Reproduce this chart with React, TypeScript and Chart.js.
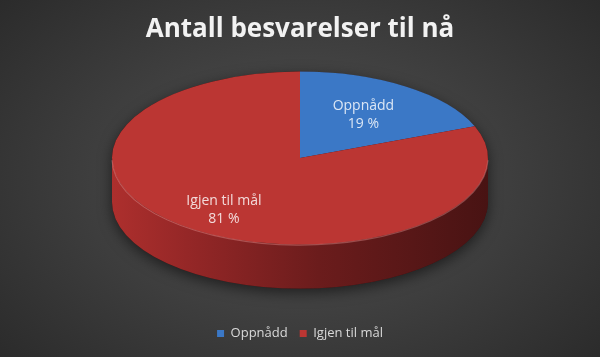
import React, { useEffect, useRef } from "react";
import { Chart, registerables } from "chart.js";

Chart.register(...registerables);

const titleText = "Antall besvarelser til nå";
const categories = ["Oppnådd", "Igjen til mål"];
const values = [19, 81];
const topColors = ["#3b78c6", "#bb3633"];
const sideStops = [
  ["#2f64aa", "#24508a", "#1a3b66", "#122a4a"],
  ["#ad2f2d", "#952727", "#6b1c1c", "#481313"],
];
const labelFractions = [0.6, 0.72];

const FONT = "'Open Sans', 'DejaVu Sans', sans-serif";

const pie3d = {
  id: "pie3d",
  beforeDatasetsDraw(chart: any, _args: any, opts: any) {
    const meta = chart.getDatasetMeta(0);
    const arcs = meta.data as any[];
    if (!arcs.length) return false;
    const ctx: CanvasRenderingContext2D = chart.ctx;
    const p0 = arcs[0].getProps(["x", "y", "outerRadius"], true);
    const cx = p0.x, cy = p0.y, r = p0.outerRadius;
    const sq = opts.squash, depth = opts.depth;
    const topY = cy - depth / 2;
    const ry = r * sq;

    // shadow silhouette
    ctx.save();
    ctx.beginPath();
    ctx.ellipse(cx, topY, r, ry, 0, Math.PI, 2 * Math.PI);
    ctx.ellipse(cx, topY + depth, r, ry, 0, 0, Math.PI);
    ctx.closePath();
    ctx.shadowColor = "rgba(0,0,0,0.55)";
    ctx.shadowBlur = 14;
    ctx.shadowOffsetY = 4;
    ctx.fillStyle = "#3a1010";
    ctx.fill();
    ctx.restore();

    // sides
    arcs.forEach((arc: any, i: number) => {
      const { startAngle: s, endAngle: e } = arc.getProps(["startAngle", "endAngle"], true);
      for (const off of [-2 * Math.PI, 0, 2 * Math.PI]) {
        const a1 = Math.max(s, off);
        const a2 = Math.min(e, Math.PI + off);
        if (a2 <= a1) continue;
        const stops = opts.sideStops[i % opts.sideStops.length];
        const g = ctx.createLinearGradient(cx - r, 0, cx + r, 0);
        g.addColorStop(0, stops[0]);
        g.addColorStop(0.2, stops[1]);
        g.addColorStop(0.55, stops[2]);
        g.addColorStop(1, stops[3]);
        ctx.save();
        ctx.beginPath();
        ctx.ellipse(cx, topY, r, ry, 0, a1, a2);
        ctx.ellipse(cx, topY + depth, r, ry, 0, a2, a1, true);
        ctx.closePath();
        ctx.fillStyle = g;
        ctx.fill();
        ctx.restore();
      }
    });

    // top faces
    arcs.forEach((arc: any) => {
      ctx.save();
      ctx.translate(cx, topY);
      ctx.scale(1, sq);
      ctx.translate(-cx, -cy);
      arc.draw(ctx, chart.chartArea);
      ctx.restore();
    });

    // rim highlight on front edge
    ctx.save();
    ctx.beginPath();
    ctx.ellipse(cx, topY + 0.5, r, ry, 0, 0.02, Math.PI - 0.02);
    ctx.strokeStyle = "rgba(255,170,170,0.35)";
    ctx.lineWidth = 1.2;
    ctx.stroke();
    ctx.restore();
    return false;
  },
  afterDraw(chart: any, _args: any, opts: any) {
    const meta = chart.getDatasetMeta(0);
    const arcs = meta.data as any[];
    if (!arcs.length) return;
    const ctx: CanvasRenderingContext2D = chart.ctx;
    const data = chart.data.datasets[0].data as number[];
    const total = data.reduce((a, b) => a + b, 0);
    const labels = chart.data.labels as string[];
    ctx.save();
    ctx.font = `14px ${FONT}`;
    ctx.textAlign = "center";
    ctx.textBaseline = "middle";
    ctx.fillStyle = "rgba(255,255,255,0.82)";
    arcs.forEach((arc: any, i: number) => {
      const p = arc.getProps(["x", "y", "outerRadius", "startAngle", "endAngle"], true);
      const m = (p.startAngle + p.endAngle) / 2;
      const f = opts.fractions[i];
      const topY = p.y - opts.depth / 2;
      const x = p.x + Math.cos(m) * p.outerRadius * f;
      const y = topY + Math.sin(m) * p.outerRadius * opts.squash * f;
      const pct = Math.round((data[i] / total) * 100);
      ctx.fillText(labels[i], x, y - 9);
      ctx.fillText(`${pct} %`, x, y + 9);
    });
    ctx.restore();
  },
};

export default function App() {
  const ref = useRef<HTMLCanvasElement>(null);
  useEffect(() => {
    if (!ref.current) return;
    const chart = new Chart(ref.current, {
      type: "pie",
      data: {
        labels: categories,
        datasets: [
          {
            data: values,
            backgroundColor: topColors,
            borderWidth: 0,
            radius: 188,
            clip: false as any,
          } as any,
        ],
      },
      options: {
        animation: false,
        responsive: true,
        maintainAspectRatio: false,
        events: [],
        layout: { padding: { bottom: 7 } },
        plugins: {
          title: {
            display: true,
            text: titleText,
            color: "#f2f2f2",
            font: { family: FONT, size: 26, weight: "bold" },
            padding: { top: 14, bottom: 0 },
          },
          legend: {
            position: "bottom",
            labels: {
              color: "#d9d9d9",
              boxWidth: 7,
              boxHeight: 7,
              padding: 12,
              font: { family: FONT, size: 13 },
            },
          },
          tooltip: { enabled: false },
          pie3d: { squash: 0.46, depth: 44, fractions: labelFractions, sideStops },
        } as any,
      },
      plugins: [pie3d as any],
    });
    return () => chart.destroy();
  }, []);
  return (
    <div
      style={{
        position: "fixed",
        left: 0,
        top: 0,
        width: 600,
        height: 357,
        background:
          "radial-gradient(ellipse 70% 80% at 50% 50%, #525252 0%, #3c3c3c 55%, #292929 100%)",
      }}
    >
      <div style={{ position: "relative", width: "100%", height: "100%" }}>
        <canvas ref={ref} />
      </div>
    </div>
  );
}
